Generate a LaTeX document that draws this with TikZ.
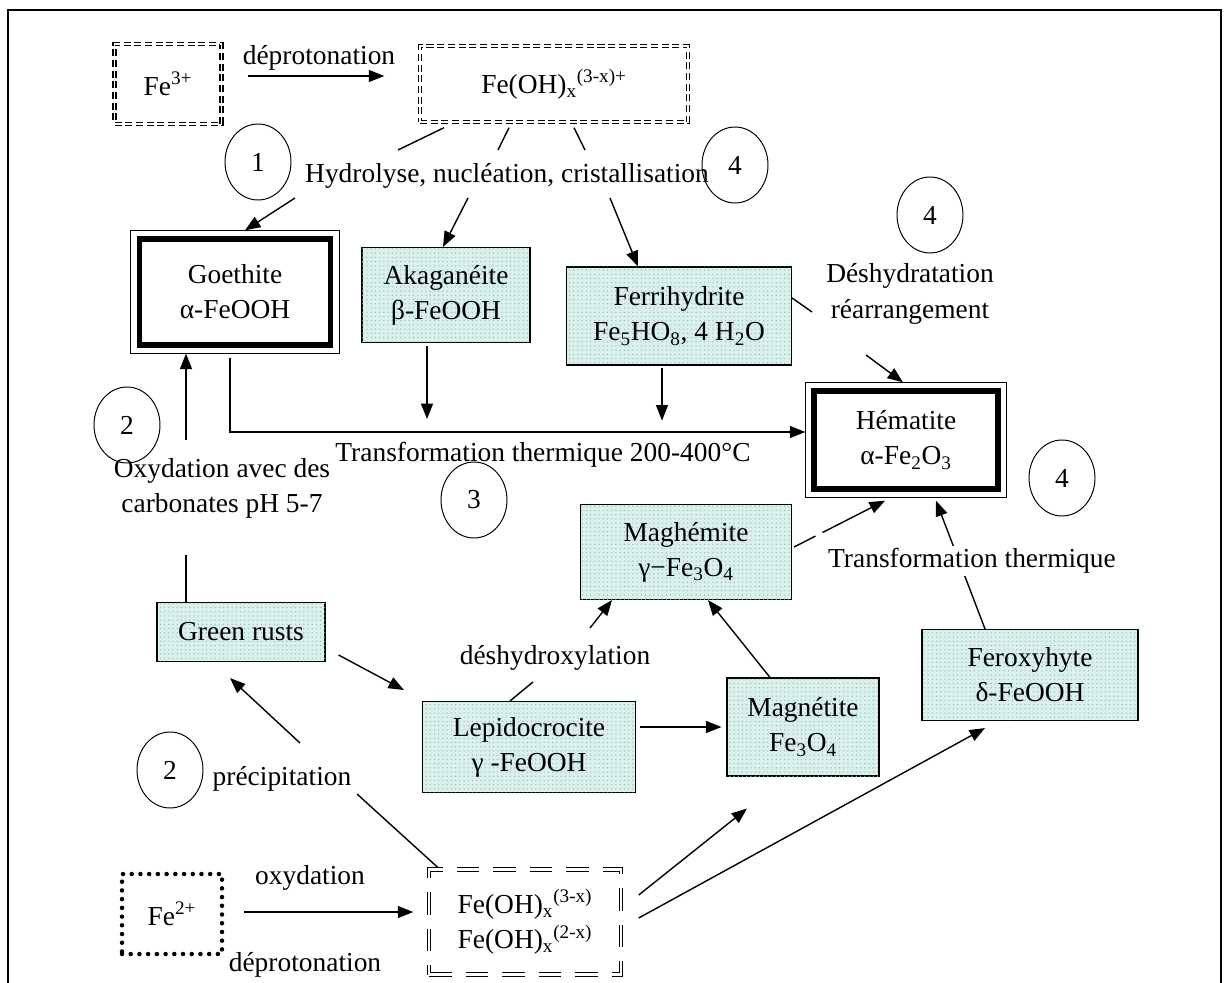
\documentclass[tikz,border=0pt]{standalone}
\usepackage{fontspec}
\setmainfont{Liberation Serif}
\usepackage{tikz}
\usetikzlibrary{calc,arrows.meta,positioning,backgrounds,patterns,shapes.geometric}
\definecolor{cShade}{RGB}{216,241,236}
\definecolor{cDot}{RGB}{160,186,180}
\def\px{0.025cm}

\begin{document}
\begin{tikzpicture}[x=\px,y=-\px,
  txt/.style={font=\fontsize{19.5}{25}\selectfont,align=center,inner sep=2pt},
  phase/.style={txt,draw,line width=0.8pt,fill=cShade,inner sep=0pt,
    postaction={pattern=dots,pattern color=cDot}},
  mainbox/.style={txt,draw,line width=3.8pt,fill=white,inner sep=0pt},
  ionbox/.style={txt,draw,double,line width=1pt,double distance=1.3pt,
    dash pattern=on 5pt off 2.6pt,inner sep=0pt},
  pairbox/.style={txt,draw,double,line width=1pt,double distance=1.5pt,
    dash pattern=on 16pt off 10pt,inner sep=0pt},
  dotbox/.style={txt,draw,line width=3.2pt,line cap=round,
    dash pattern=on 0pt off 6.2pt,inner sep=0pt},
  numc/.style={txt,draw,ellipse,line width=0.7pt,minimum width=66*\px,
    minimum height=76*\px,inner sep=0pt},
  arr/.style={-{Triangle[length=11pt,width=8.5pt]},line width=1pt},
  ln/.style={line width=1pt}]
  \useasboundingbox (0,0) rectangle (1228,983);
  \draw[line width=1pt] (8,983) -- (8,10) -- (1221,10) -- (1221,983);

  % ions en solution
  \node[ionbox,minimum width=107*\px,minimum height=80*\px] (fe3) at (168,84) {Fe\textsuperscript{3+}};
  \node[txt] (deprotA) at (319,58) {déprotonation};
  \node[ionbox,minimum width=268*\px,minimum height=76*\px] (feoh3) at (554,84) {Fe(OH)\textsubscript{x}\textsuperscript{(3-x)+}};
  \node[txt] (hydro) at (507,176) {Hydrolyse, nucléation, cristallisation};
  \node[numc] (n1) at (258,162) {1};
  \node[numc] (n4a) at (735,165) {4};
  \node[numc] (n4b) at (930,215) {4};

  % oxyhydroxydes
  \node[mainbox,minimum width=191*\px,minimum height=106*\px] (goe) at (235,292) {Goethite\\α-FeOOH};
  \node[phase,minimum width=168*\px,minimum height=95*\px] (aka) at (446,295) {Akaganéite\\β-FeOOH};
  \node[phase,minimum width=225*\px,minimum height=98*\px] (ferri) at (679,316) {Ferrihydrite\\Fe\textsubscript{5}HO\textsubscript{8}, 4 H\textsubscript{2}O};
  \node[txt] (deshyd) at (910,294) {Déshydratation\\réarrangement};
  \node[mainbox,minimum width=184*\px,minimum height=98*\px] (hema) at (906,440) {Hématite\\α-Fe\textsubscript{2}O\textsubscript{3}};
  \draw[line width=0.6pt] ($(goe.north west)+(-6,-6)$) rectangle ($(goe.south east)+(6,6)$);
  \draw[line width=0.6pt] ($(hema.north west)+(-6,-6)$) rectangle ($(hema.south east)+(6,6)$);

  \node[numc] (n2a) at (127,425) {2};
  \node[txt] (transA) at (543,455) {Transformation thermique 200-400°C};
  \node[numc] (n3) at (474,500) {3};
  \node[numc] (n4c) at (1062,478) {4};
  \node[txt] (oxyd) at (222,488) {Oxydation avec des\\carbonates pH 5-7};
  \node[phase,minimum width=211*\px,minimum height=95*\px] (magh) at (686,552) {Maghémite\\γ−Fe\textsubscript{3}O\textsubscript{4}};
  \node[txt,fill=white] (transB) at (972,561) {Transformation thermique};
  \node[phase,minimum width=168*\px,minimum height=59*\px] (green) at (241,632) {Green rusts};
  \node[txt] (deshydrox) at (555,658) {déshydroxylation};
  \node[phase,minimum width=216*\px,minimum height=91*\px] (ferox) at (1030,675) {Feroxyhyte\\δ-FeOOH};
  \node[phase,minimum width=213*\px,minimum height=91*\px] (lepido) at (529,747) {Lepidocrocite\\γ -FeOOH};
  \node[phase,minimum width=152*\px,minimum height=98*\px] (magn) at (803,727) {Magnétite\\Fe\textsubscript{3}O\textsubscript{4}};
  \node[numc] (n2b) at (170,770) {2};
  \node[txt] (precip) at (282,779) {précipitation};

  % Fe(II)
  \node[dotbox,minimum width=100*\px,minimum height=80*\px] (fe2) at (172,914) {Fe\textsuperscript{2+}};
  \node[txt] (oxydB) at (310,878) {oxydation};
  \node[txt] (deprotB) at (305,965) {déprotonation};
  \node[pairbox,minimum width=192*\px,minimum height=105*\px] (feoh2) at (525,922) {Fe(OH)\textsubscript{x}\textsuperscript{(3-x)}\\Fe(OH)\textsubscript{x}\textsuperscript{(2-x)}};

  \begin{scope}[on background layer]
    \draw[arr] ($(fe3.east)+(26,-8)$) -- ($(feoh3.west)+(-35,-8)$);
    \draw[ln] ($(feoh3.south)+(-110,5)$) -- ($(hydro)+(-109,-26)$);
    \draw[ln] ($(feoh3.south)+(-45,5)$) -- ($(hydro)+(-9,-26)$);
    \draw[ln] ($(feoh3.south)+(20,5)$) -- ($(hydro)+(78,-26)$);
    \draw[arr] ($(hydro)+(-212,22)$) -- ($(goe.north)+(10,-6)$);
    \draw[arr] ($(hydro)+(-39,22)$) -- ($(aka.north)+(-3,0)$);
    \draw[arr] ($(hydro)+(103,22)$) -- ($(ferri.north)+(-41,0)$);
    \draw[arr] ($(goe.south)+(-5,10)$) |- ($(hema.west)+(-6,-8)$);
    \draw[arr] ($(aka.south)+(-19,3)$) -- ++(0,73);
    \draw[arr] ($(ferri.south)+(-17,2)$) -- ++(0,53);
    \draw[ln] ($(ferri.east)+(0,-18)$) -- ($(deshyd)+(-98,18)$);
    \draw[arr] ($(deshyd)+(-44,61)$) -- ($(hema.north)+(-3,-6)$);
    \draw[ln] ($(green.north)+(-55,0)$) -- ($(oxyd)+(-36,67)$);
    \draw[arr] ($(oxyd)+(-36,-48)$) -- ($(goe.south)+(-49,6)$);
    \draw[arr] ($(green.east)+(13,23)$) -- ($(lepido.west)+(-18,-57)$);
    \draw[ln] ($(lepido.north)+(-19,0)$) -- ($(deshydrox)+(-22,24)$);
    \draw[arr] ($(deshydrox)+(35,-30)$) -- ($(magh.south)+(-74,0)$);
    \draw[arr] ($(lepido.east)+(4,-20)$) -- ($(magn.west)+(-5,0)$);
    \draw[arr] ($(magn.north)+(-33,0)$) -- ($(magh.south)+(22,0)$);
    \draw[arr,dash pattern=on 0.6cm off 0.2cm on 4cm] ($(magh.east)+(2,-5)$) -- ($(hema.south)+(-21,9)$);
    \draw[arr] ($(ferox.north)+(-45,0)$) -- ($(hema.south)+(30,9)$);
    \draw[ln] ($(feoh2.north west)+(11,0)$) -- ($(precip)+(75,15)$);
    \draw[arr] ($(precip)+(18,-36)$) -- ($(green.south)+(-11,16)$);
    \draw[arr] ($(fe2.east)+(20,-2)$) -- ($(feoh2.west)+(-15,-10)$);
    \draw[arr] ($(feoh2.east)+(17,-27)$) -- ($(magn.south)+(-56,32)$);
    \draw[arr] ($(feoh2.east)+(17,-4)$) -- ($(ferox.south)+(-45,7)$);
  \end{scope}
\end{tikzpicture}
\end{document}
